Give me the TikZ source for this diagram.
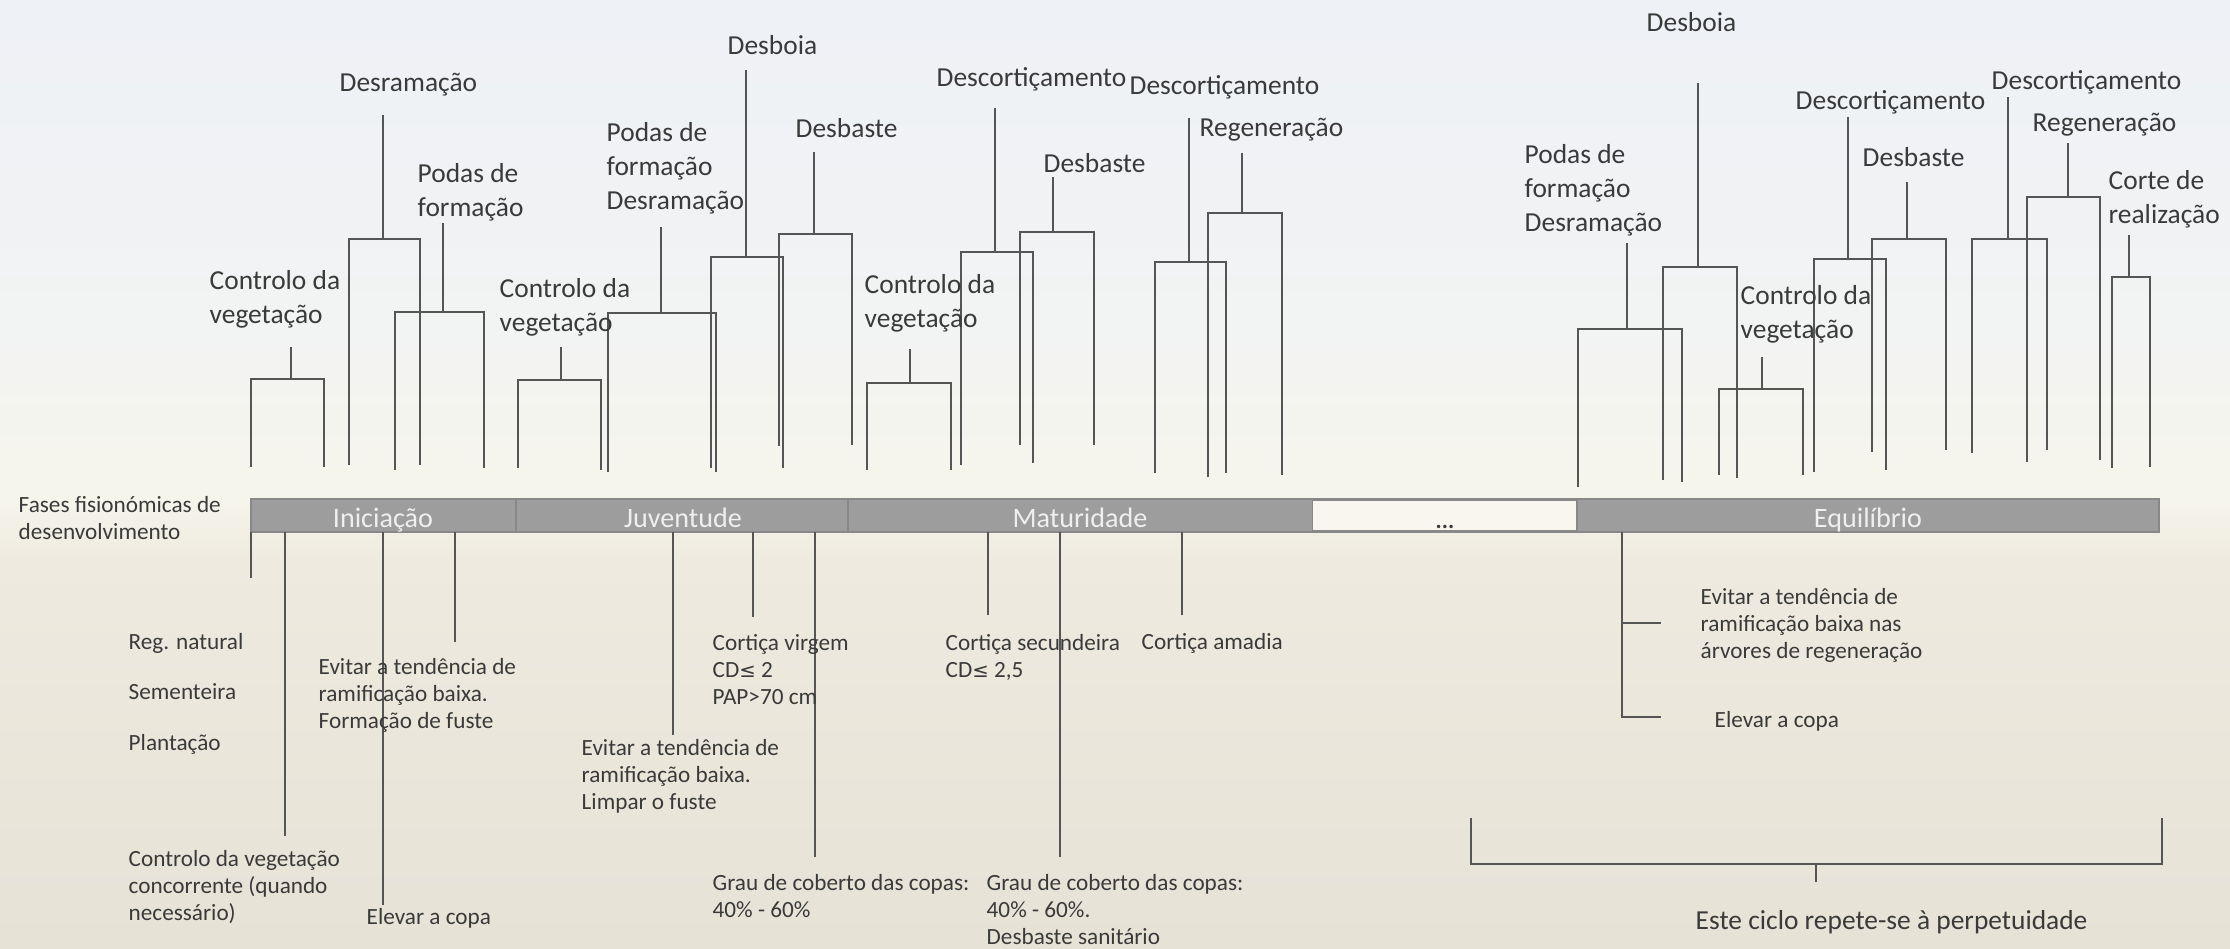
\documentclass[tikz,border=0pt]{standalone}
\usepackage{fontspec}
\setmainfont{Carlito}
\newfontfamily\symfnt{DejaVu Sans}

\definecolor{skyA}{HTML}{EEF1F6}
\definecolor{skyB}{HTML}{F2F3F3}
\definecolor{creamA}{HTML}{F6F5EB}
\definecolor{fieldA}{HTML}{EEEADF}
\definecolor{fieldB}{HTML}{E7E2D6}
\definecolor{linegray}{HTML}{555555}
\definecolor{textdark}{HTML}{3A3A3A}
\definecolor{barfill}{HTML}{9D9D9D}
\definecolor{baredge}{HTML}{888888}
\definecolor{bartext}{HTML}{EFEFEF}
\definecolor{gapfill}{HTML}{F8F6EE}

\newcommand\toplabfont{\fontsize{7.8pt}{9.6pt}\selectfont}
\newcommand\lowlabfont{\fontsize{6.6pt}{7.7pt}\selectfont}
\newcommand\barlabfont{\fontsize{8pt}{9.6pt}\selectfont}
\newcommand\leqsign{{\symfnt\fontsize{5.6pt}{7.7pt}\selectfont ≤}}

% x1 x2 ytop xstem ystem ybottom1 ybottom2
\newcommand\opbracket[7]{%
  \draw[tline] (#1,#6) |- (#2,#3) -- (#2,#7);
  \draw[tline] (#4,#5) -- (#4,#3);
}

% labels are placed by the baseline of their last line
\tikzset{
  tline/.style={draw=linegray, line width=0.6pt},
  toplab/.style={anchor=base west, inner sep=0pt, align=left, font=\toplabfont, text=textdark, yshift=-2.56pt},
  lowlab/.style={anchor=base west, inner sep=0pt, align=left, font=\lowlabfont, text=textdark, yshift=-2.13pt},
  phase/.style={anchor=base, inner sep=0pt, font=\barlabfont, text=bartext},
  barseg/.style={fill=barfill, draw=baredge, line width=0.5pt},
}

\begin{document}
\begin{tikzpicture}[x=0.01cm, y=-0.01cm]
\useasboundingbox (0,0) rectangle (2230,948);

% background: pale sky fading into a light field
\shade[top color=skyA, bottom color=skyB] (0,0) rectangle (2230,331);
\shade[top color=skyB, bottom color=creamA] (0,330) rectangle (2230,501);
\shade[top color=creamA, bottom color=fieldA] (0,500) rectangle (2230,561);
\shade[top color=fieldA, bottom color=fieldB] (0,560) rectangle (2230,948);

% ---------------- operations above the timeline ----------------
% Iniciação
\opbracket{251}{324}{379}{291}{347}{467}{467}
\opbracket{349}{420}{239}{383}{115}{465}{465}
\opbracket{395}{484}{312}{443}{223}{470}{468}
% Juventude
\opbracket{518}{601}{380}{561}{347}{468}{470}
\opbracket{608}{716}{313}{661}{227}{472}{472}
\opbracket{711}{783}{257}{746}{70}{468}{468}
\opbracket{779}{852}{234}{814}{152}{446}{445}
% Maturidade
\opbracket{867}{951}{383}{910}{349}{470}{470}
\opbracket{961}{1033}{252}{995}{108}{465}{463}
\opbracket{1020}{1094}{232}{1053}{177}{445}{445}
\opbracket{1155}{1226}{262}{1189}{118}{473}{473}
\opbracket{1208}{1282}{213}{1242}{153}{477}{475}
% Equilíbrio
\opbracket{1578}{1682}{329}{1627}{243}{487}{482}
\opbracket{1663}{1737}{267}{1698}{83}{480}{478}
\opbracket{1719}{1803}{389}{1762}{357}{475}{475}
\opbracket{1814}{1886}{259}{1848}{117}{472}{470}
\opbracket{1872}{1946}{239}{1907}{182}{452}{450}
\opbracket{1972}{2047}{239}{2008}{97}{453}{450}
\opbracket{2027}{2100}{197}{2068}{143}{462}{460}
\opbracket{2112}{2150}{277}{2129}{235}{468}{467}

\node[toplab] (t1) at (209,314) {Controlo da\\vegetação};
\node[toplab] (t2) at (339,82) {Desramação};
\node[toplab] (t3) at (417,207) {Podas de\\formação};
\node[toplab] (t4) at (499,322) {Controlo da\\vegetação};
\node[toplab] (t5) at (606,200) {Podas de\\formação\\Desramação};
\node[toplab] (t6) at (727,45) {Desboia};
\node[toplab] (t7) at (795,128) {Desbaste};
\node[toplab] (t8) at (864,318) {Controlo da\\vegetação};
\node[toplab] (t9) at (936,77) {Descortiçamento};
\node[toplab] (t10) at (1043,163) {Desbaste};
\node[toplab] (t11) at (1129,85) {Descortiçamento};
\node[toplab] (t12) at (1199,127) {Regeneração};
\node[toplab] (t13) at (1524,222) {Podas de\\formação\\Desramação};
\node[toplab] (t14) at (1646,22) {Desboia};
\node[toplab] (t15) at (1740,329) {Controlo da\\vegetação};
\node[toplab] (t16) at (1795,100) {Descortiçamento};
\node[toplab] (t17) at (1862,157) {Desbaste};
\node[toplab] (t18) at (1991,80) {Descortiçamento};
\node[toplab] (t19) at (2032,122) {Regeneração};
\node[toplab] (t20) at (2108,214) {Corte de\\realização};

% ---------------- timeline of phases ----------------
\path[barseg] (251,499) rectangle (516,532);
\path[barseg] (516,499) rectangle (848,532);
\path[barseg] (848,499) rectangle (1313,532);
\fill[gapfill] (1313,499) rectangle (1577,532);
\draw[baredge, line width=0.8pt] (1313,499.5) -- (1577,499.5) (1313,531.5) -- (1577,531.5);
\path[barseg] (1577,499) rectangle (2159,532);

\node[phase] (ini) at (383,527) {Iniciação};
\node[phase] (juv) at (683,527) {Juventude};
\node[phase] (mat) at (1080,527) {Maturidade};
\node[phase, text=textdark, font=\lowlabfont\bfseries] (gap) at (1445,528) {...};
\node[phase] (equ) at (1868,527) {Equilíbrio};

\node[lowlab] (fases) at (18,532) {Fases fisionómicas de\\desenvolvimento};

% ---------------- notes below the timeline ----------------
\draw[tline] (251,532) -- (251,578);
\draw[tline] (285,532) -- (285,836);
\draw[tline] (383,532) -- (383,905);
\draw[tline] (455,532) -- (455,642);
\draw[tline] (673,532) -- (673,735);
\draw[tline] (753,532) -- (753,617);
\draw[tline] (815,532) -- (815,857);
\draw[tline] (988,532) -- (988,615);
\draw[tline] (1060,532) -- (1060,857);
\draw[tline] (1182,532) -- (1182,615);
\draw[tline] (1622,532) -- (1622,717) -- (1661,717);
\draw[tline] (1622,623) -- (1661,623);

\node[lowlab] (b1) at (128,642) {Reg. natural};
\node[lowlab] (b2) at (128,692) {Sementeira};
\node[lowlab] (b3) at (128,743) {Plantação};
\node[lowlab] (b4) at (318,721) {Evitar a tendência de\\ramificação baixa.\\Formação de fuste};
\node[lowlab] (b5) at (128,913) {Controlo da vegetação\\concorrente (quando\\necessário)};
\node[lowlab] (b6) at (366,917) {Elevar a copa};
\node[lowlab] (b7) at (581,802) {Evitar a tendência de\\ramificação baixa.\\Limpar o fuste};
\node[lowlab] (b8) at (712,697) {Cortiça virgem\\CD\leqsign{} 2\\PAP>70 cm};
\node[lowlab] (b9) at (712,910) {Grau de coberto das copas:\\40\% - 60\%};
\node[lowlab] (b10) at (945,670) {Cortiça secundeira\\CD\leqsign{} 2,5};
\node[lowlab] (b11) at (1141,642) {Cortiça amadia};
\node[lowlab] (b12) at (986,937) {Grau de coberto das copas:\\40\% - 60\%.\\Desbaste sanitário};
\node[lowlab] (b13) at (1700,651) {Evitar a tendência de\\ramificação baixa nas\\árvores de regeneração};
\node[lowlab] (b14) at (1714,720) {Elevar a copa};

% bracket closing the repeating cycle
\coordinate (cl) at (1471,818);
\coordinate (cr) at (2162,818);
\coordinate (cm) at (1816,864);
\draw[tline] (cl) |- (cr |- cm) -- (cr);
\draw[tline] (cm) -- ++(0,18);
\node[toplab] (cyc) at (1695,920) {Este ciclo repete-se à perpetuidade};
\end{tikzpicture}
\end{document}
